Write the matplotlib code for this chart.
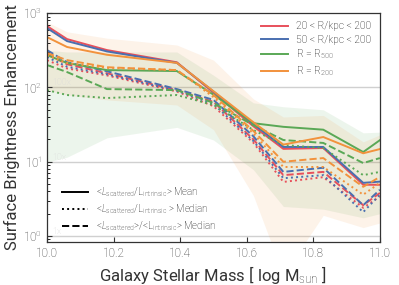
import numpy as np
import matplotlib
matplotlib.use("Agg")
import matplotlib.pyplot as plt  # noqa: E402
from matplotlib.lines import Line2D  # noqa: E402

plt.rcParams["font.family"] = ["Roboto", "DejaVu Sans"]
plt.rcParams["font.weight"] = "light"
plt.rcParams["mathtext.fontset"] = "custom"
plt.rcParams["mathtext.rm"] = "Roboto:light"
plt.rcParams["mathtext.it"] = "Roboto:italic:light"

# galaxy stellar mass bins (log Msun)
mass = [10.0, 10.06, 10.18, 10.39, 10.5, 10.62, 10.71, 10.83, 10.95, 11.0]

# surface brightness enhancement, per radius selection
# mean of ratio (solid)
red_mean = [668, 447, 318, 218, 85, 30, 14.9, 15.3, 4.9, 4.9]
blue_mean = [628, 420, 305, 214, 88, 32, 15.8, 15.8, 5.2, 5.4]
green_mean = [272, 213, 171, 166, 80, 33, 29.5, 27, 13.5, 19.5]
orange_mean = [475, 350, 275, 214, 89, 34, 17, 21.5, 13, 14.8]
# median of ratio (dotted)
red_med = [233, 180, 145, 88, 56, 18, 5.35, 6.2, 2.4, 3.4]
blue_med = [256, 190, 150, 90, 60, 19, 6.0, 6.6, 2.1, 3.6]
green_med = [92, 79, 72, 79, 58, 26.7, 16.8, 15.3, 6.6, 7.3]
orange_med = [272, 213, 183, 171, 74, 24, 8.5, 8.5, 3.6, 5.2]
# ratio of medians (dashed)
red_rmed = [280, 205, 155, 92, 64, 20, 6.6, 7.3, 2.6, 3.8]
blue_rmed = [318, 218, 165, 95, 68, 22, 7.3, 8.3, 2.6, 4.2]
green_rmed = [200, 161, 95, 92, 62, 31, 19.6, 17.9, 9.6, 11.2]
orange_rmed = [290, 233, 187, 171, 79, 26, 10, 11.2, 4.6, 6.25]

# scatter bands
green_lo = [9.9, 11.5, 21, 29, 19.6, 7.8, 2.5, 2.3, 1.76, 2.0]
green_hi = [316, 300, 300, 300, 146, 62, 55, 50, 24.5, 25]
orange_lo = [92, 79, 68, 58, 27, 3.5, 0.3, 1.9, 1.3, 1.5]
orange_hi = [760, 560, 460, 372, 233, 70, 40, 42, 18.5, 23]

labels = ["20 < R/kpc < 200", "50 < R/kpc < 200",
          r"R = R$_{500}$", r"R = R$_{200}$"]
colors = ["#e8505b", "#4a6fb0", "#5aa856", "#f2923c"]

fig = plt.figure(figsize=(3.99, 2.85), dpi=100)
ax = fig.add_axes([0.118, 0.152, 0.834, 0.802])

ax.fill_between(mass, green_lo, green_hi, color=colors[2], alpha=0.11, lw=0)
ax.fill_between(mass, orange_lo, orange_hi, color=colors[3], alpha=0.11, lw=0)

means = [red_mean, blue_mean, green_mean, orange_mean]
meds = [red_med, blue_med, green_med, orange_med]
rmeds = [red_rmed, blue_rmed, green_rmed, orange_rmed]
for c, lab, m, d, r in zip(colors, labels, means, meds, rmeds):
    ax.plot(mass, m, "-", color=c, lw=1.4, label=lab)
    ax.plot(mass, d, ":", color=c, lw=1.4)
    ax.plot(mass, r, "--", color=c, lw=1.4)

for v, txt in [(1, "1x"), (10, "10x"), (100, "100x")]:
    ax.axhline(v, color="#d0d0d0", lw=1.0, zorder=0)
    ax.text(10.015, v * 1.07, txt, color="#d8d8d8", fontsize=6.5)

ax.set_yscale("log")
ax.set_ylim(0.84, 1000)
ax.set_xlim(10.0, 11.0)
ax.set_xticks([10.0, 10.2, 10.4, 10.6, 10.8, 11.0])
ax.tick_params(direction="in", labelsize=8.5, colors="#333333")
ax.tick_params(which="minor", direction="in")
for s in ax.spines.values():
    s.set_color("#333333")
    s.set_linewidth(0.9)

ax.set_xlabel(r"Galaxy Stellar Mass [ log M$_{\rm sun}$ ]", fontsize=12,
              color="#333333", labelpad=3)
ax.set_ylabel("Surface Brightness Enhancement", fontsize=12,
              color="#333333", labelpad=2)

leg1 = ax.legend(loc="upper right", frameon=False, fontsize=7.5,
                 handlelength=2.6, borderaxespad=0.4, labelspacing=0.3)
ax.add_artist(leg1)

style_handles = [Line2D([], [], color="k", ls="-", lw=1.4),
                 Line2D([], [], color="k", ls=":", lw=1.4),
                 Line2D([], [], color="k", ls="--", lw=1.4)]
style_labels = [r"<$L_{\rm scattered}$/L$_{\rm intrinsic}$> Mean",
                r"<$L_{\rm scattered}$/L$_{\rm intrinsic}$ > Median",
                r"<$L_{\rm scattered}$>/<L$_{\rm intrinsic}$> Median"]
ax.legend(style_handles, style_labels, loc="lower left", frameon=False,
          fontsize=7, handlelength=2.6, bbox_to_anchor=(0.02, 0.0),
          labelspacing=0.3)

fig.savefig("out.png", dpi=100)
